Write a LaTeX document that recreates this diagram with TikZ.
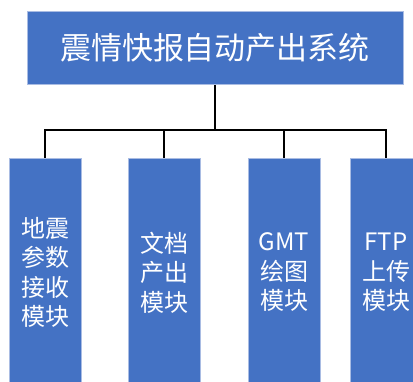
\documentclass[tikz,border=0pt]{standalone}
\usepackage{fontspec}
\setmainfont{Noto Sans CJK SC}
\definecolor{boxblue}{HTML}{4472C4}
\definecolor{edgeblue}{HTML}{A9BCE3}
\begin{document}
\begin{tikzpicture}[x=1pt,y=-1pt,
  blk/.style={draw=edgeblue,line width=0.8pt,fill=boxblue,text=white,inner sep=0pt,anchor=north},
  link/.style={draw=black,line width=1.4pt}]
\useasboundingbox (0,0) rectangle (413,382);
\begin{scope}
\clip (0,0) rectangle (413,382);
\node[blk,minimum width=376pt,minimum height=73pt,font=\fontsize{31}{36}\selectfont] (top) at (215,11) {震情快报自动产出系统};
\coordinate (bus) at (215,130);
\foreach \n/\x/\t in {m1/45/{地震\\参数\\接收\\模块},m2/164/{文档\\产出\\模块},m3/284/{GMT\\绘图\\模块},m4/386/{FTP\\上传\\模块}}{
  \node[blk,minimum width=72pt,minimum height=228pt,align=center,font=\fontsize{24}{29.5}\selectfont] (\n) at (\x,158) {\t};
}
\draw[link] (top.south) -- (bus);
\draw[link] (m1.north) |- (bus) -| (m4.north);
\draw[link] (m2.north) -- (m2.north |- bus);
\draw[link] (m3.north) -- (m3.north |- bus);
\end{scope}
\end{tikzpicture}
\end{document}
